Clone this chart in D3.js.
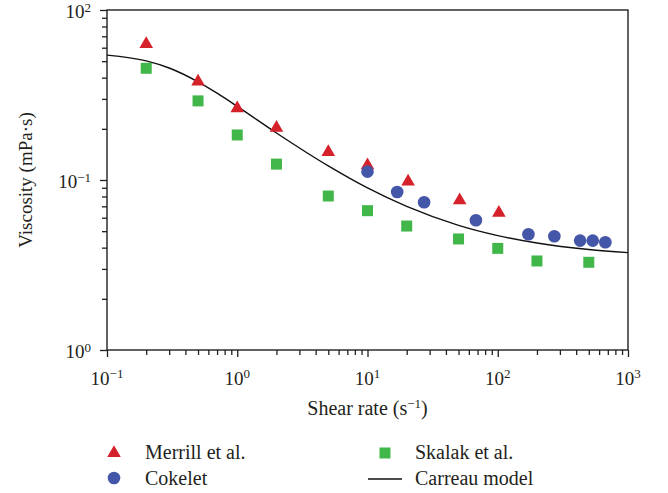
<!DOCTYPE html>
<html>
<head>
<meta charset="utf-8">
<script src="https://cdn.jsdelivr.net/npm/d3@7"></script>
<style>
  body { margin: 0; background: #fff; }
  svg text { font-family: "Liberation Serif", "DejaVu Serif", serif; fill: #231f20; }
</style>
</head>
<body>
<svg id="chart" width="668" height="493"></svg>
<script>
// Merrill et al. (shear rate s^-1, viscosity mPa·s)
const merrillRate = [0.2, 0.5, 1, 2, 5, 10, 20.5, 51, 102];
const merrillVisc = [63, 37.9, 26.4, 20.3, 14.6, 12.2, 9.8, 7.6, 6.4];

// Cokelet
const cokeletRate = [10, 16.9, 27.2, 68, 172, 272, 429, 536, 670];
const cokeletVisc = [11.2, 8.5, 7.4, 5.8, 4.8, 4.67, 4.4, 4.4, 4.3];

// Skalak et al.
const skalakRate = [0.2, 0.5, 1, 2, 5, 10, 20, 50, 100, 200, 500];
const skalakVisc = [45.4, 29.2, 18.4, 12.4, 8.05, 6.6, 5.36, 4.5, 3.96, 3.34, 3.28];

// Carreau model curve
const carreauRate = [0.1, 0.2, 0.3, 0.5, 0.7, 1, 2, 5, 10, 20, 50, 100, 200, 500, 1000];
const carreauVisc = [54.3, 50.2, 45.6, 37.8, 32.4, 27.1, 18.9, 12.1, 8.98, 6.99, 5.41, 4.71, 4.26, 3.9, 3.74];

const xTickValues = [0.1, 1, 10, 100, 1000];
const xTickExps = ["\u22121", "0", "1", "2", "3"];
const yTickValues = [1, 10, 100];
const yTickExps = ["0", "\u22121", "2"];   // labels as printed on the original

const legendItems = ["Merrill et al.", "Cokelet", "Skalak et al.", "Carreau model"];

const red = "#d52129", blue = "#4456a7", green = "#41b649";

const svg = d3.select('#chart');
const margin = {left: 107, right: 40, top: 10, bottom: 143};
const W = 668, H = 493;

const x = d3.scaleLog().domain([0.1, 1000]).range([margin.left, W - margin.right]);
const y = d3.scaleLog().domain([1, 100]).range([H - margin.bottom, margin.top]);

const zip = (a, b) => a.map((v, i) => [v, b[i]]);

// minor ticks
const minorX = [], minorY = [];
for (let d = 0.1; d < 1000; d *= 10) for (let k = 2; k <= 9; k++) minorX.push(d * k);
for (let d = 1; d < 100; d *= 10) for (let k = 2; k <= 9; k++) minorY.push(d * k);

const axisX = svg.append('g')
    .attr('transform', `translate(0,${y(1)})`)
    .call(d3.axisBottom(x).tickValues(minorX).tickSize(5).tickFormat(''));
const axisX2 = svg.append('g')
    .attr('transform', `translate(0,${y(1)})`)
    .call(d3.axisBottom(x).tickValues(xTickValues).tickSize(7).tickFormat(''));
const axisY = svg.append('g')
    .attr('transform', `translate(${x(0.1)},0)`)
    .call(d3.axisLeft(y).tickValues(minorY).tickSize(5).tickFormat(''));
const axisY2 = svg.append('g')
    .attr('transform', `translate(${x(0.1)},0)`)
    .call(d3.axisLeft(y).tickValues(yTickValues).tickSize(7).tickFormat(''));

[axisX, axisX2, axisY, axisY2].forEach(a => {
  a.select('.domain').remove();
  a.selectAll('line').attr('stroke', '#231f20').attr('stroke-width', 1.3);
});

// frame
svg.append('rect')
    .attr('x', x(0.1)).attr('y', y(100))
    .attr('width', x(1000) - x(0.1)).attr('height', y(1) - y(100))
    .attr('fill', 'none').attr('stroke', '#231f20').attr('stroke-width', 1.4);

// tick labels
xTickValues.forEach((v, i) => {
  const t = svg.append('text')
      .attr('x', x(v)).attr('y', 385)
      .attr('text-anchor', 'middle')
      .style('font-size', '19px');
  t.append('tspan').text('10');
  t.append('tspan').text(xTickExps[i]).attr('dy', -7).style('font-size', '13px');
});
yTickValues.forEach((v, i) => {
  const t = svg.append('text')
      .attr('x', 91).attr('y', y(v) + 8)
      .attr('text-anchor', 'end')
      .style('font-size', '19px');
  t.append('tspan').text('10');
  t.append('tspan').text(yTickExps[i]).attr('dy', -6).style('font-size', '13px');
});

// axis titles
const xt = svg.append('text')
    .attr('x', x(10)).attr('y', 415)
    .attr('text-anchor', 'middle')
    .style('font-size', '20px');
xt.append('tspan').text('Shear rate (s');
xt.append('tspan').text('\u22121').attr('dy', -7).style('font-size', '13px');
xt.append('tspan').text(')').attr('dy', 7);

svg.append('text')
    .attr('transform', `translate(32,${y(10)}) rotate(-90)`)
    .attr('text-anchor', 'middle')
    .style('font-size', '19px')
    .text('Viscosity (mPa\u00b7s)');

// carreau curve
const line = d3.line()
    .x(d => x(d[0])).y(d => y(d[1]))
    .curve(d3.curveMonotoneX);
svg.append('path')
    .datum(zip(carreauRate, carreauVisc))
    .attr('d', line)
    .attr('fill', 'none').attr('stroke', '#111').attr('stroke-width', 1.4);

const tri = d3.symbol().type(d3.symbolTriangle).size(80);
const circ = d3.symbol().type(d3.symbolCircle).size(125);
const sq = d3.symbol().type(d3.symbolSquare).size(121);

svg.append('g').selectAll('path')
    .data(zip(skalakRate, skalakVisc))
    .enter().append('path')
    .attr('d', sq)
    .attr('transform', d => `translate(${x(d[0])},${y(d[1])})`)
    .attr('fill', green);

svg.append('g').selectAll('path')
    .data(zip(merrillRate, merrillVisc))
    .enter().append('path')
    .attr('d', tri)
    .attr('transform', d => `translate(${x(d[0])},${y(d[1])})`)
    .attr('fill', red);

svg.append('g').selectAll('path')
    .data(zip(cokeletRate, cokeletVisc))
    .enter().append('path')
    .attr('d', circ)
    .attr('transform', d => `translate(${x(d[0])},${y(d[1])})`)
    .attr('fill', blue);

// legend
const legend = svg.append('g').style('font-size', '20px');
legend.append('path').attr('d', tri).attr('transform', 'translate(114,453)').attr('fill', red);
legend.append('text').attr('x', 145).attr('y', 459).text(legendItems[0]);
legend.append('path').attr('d', circ).attr('transform', 'translate(114,478)').attr('fill', blue);
legend.append('text').attr('x', 145).attr('y', 485).text(legendItems[1]);
legend.append('path').attr('d', sq).attr('transform', 'translate(385,453)').attr('fill', green);
legend.append('text').attr('x', 415).attr('y', 459).text(legendItems[2]);
legend.append('line').attr('x1', 368).attr('x2', 402).attr('y1', 479).attr('y2', 479)
    .attr('stroke', '#111').attr('stroke-width', 1.4);
legend.append('text').attr('x', 415).attr('y', 485).text(legendItems[3]);
</script>
</body>
</html>
